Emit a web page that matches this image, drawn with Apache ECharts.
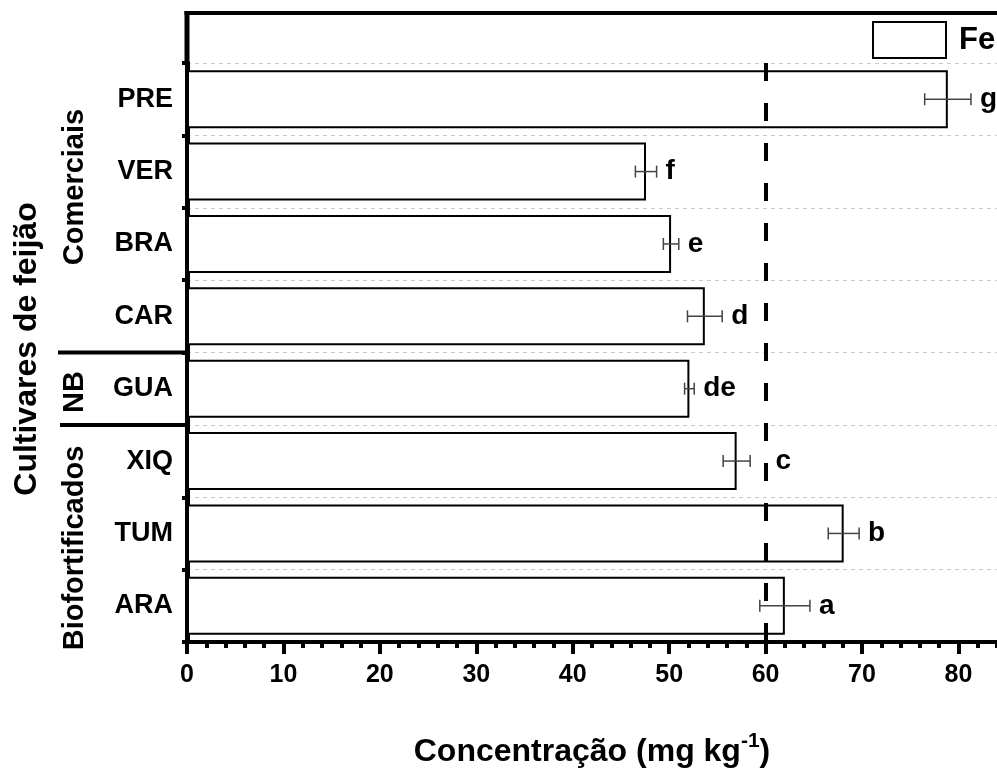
<!DOCTYPE html>
<html><head><meta charset="utf-8">
<script src="https://cdn.jsdelivr.net/npm/echarts@6/dist/echarts.min.js"></script>
<style>html,body{margin:0;padding:0;background:#fff}#c{width:997px;height:770px}</style>
</head><body><div id="c"></div>
<script>
// ---- data ----
const categories = ['PRE', 'VER', 'BRA', 'CAR', 'GUA', 'XIQ', 'TUM', 'ARA'];
const feMean = [78.9, 47.6, 50.2, 53.7, 52.1, 57.0, 68.1, 62.0];
const feErr = [2.4, 1.1, 0.8, 1.8, 0.5, 1.4, 1.6, 2.6];
const letters = ['g', 'f', 'e', 'd', 'de', 'c', 'b', 'a'];
const refLine = 60;
const xMin = 0, xMax = 84, xMajor = 10, xMinor = 2;
const seriesName = 'Fe';
const yTitle = 'Cultivares de feijão';
const groupNames = ['Comerciais', 'NB', 'Biofortificados'];

const FONT = '"Liberation Sans", Arial, Helvetica, sans-serif';
const chart = echarts.init(document.getElementById('c'), null, {renderer: 'canvas'});

const errData = categories.map((c, i) => [i, feMean[i] - feErr[i], feMean[i] + feErr[i]]);

const option = {
  animation: false,
  backgroundColor: '#fff',
  textStyle: {fontFamily: FONT},
  grid: {left: 187, right: 0, top: 63, bottom: 128, containLabel: false},
  legend: {
    data: [seriesName], left: 872, top: 21, padding: 0,
    itemWidth: 73, itemHeight: 36, icon: 'rect',
    itemStyle: {color: '#fff', borderColor: '#000', borderWidth: 2},
    textStyle: {fontSize: 31, fontWeight: 'bold', color: '#000', fontFamily: FONT, padding: [0, 0, 0, 8]}
  },
  xAxis: [{
    type: 'value', min: xMin, max: xMax, interval: xMajor, position: 'bottom',
    axisLine: {show: true, lineStyle: {color: '#000', width: 4}},
    axisTick: {show: true, length: 12, lineStyle: {color: '#000', width: 4}},
    axisLabel: {fontSize: 25, fontWeight: 'bold', color: '#000', margin: 21, showMaxLabel: false, fontFamily: FONT},
    splitLine: {show: false}
  }, {
    type: 'value', min: xMin, max: xMax, interval: xMinor, position: 'bottom',
    axisLine: {show: false},
    axisTick: {show: true, length: 6, lineStyle: {color: '#000', width: 4}},
    axisLabel: {show: false},
    splitLine: {show: false}
  }],
  yAxis: {
    type: 'category', data: categories, inverse: true,
    axisLine: {show: true, lineStyle: {color: '#000', width: 5}},
    axisTick: {show: true, length: 5, lineStyle: {color: '#000', width: 4}},
    axisLabel: {fontSize: 27, fontWeight: 'bold', color: '#000', margin: 14, fontFamily: FONT},
    splitLine: {show: true, lineStyle: {color: '#ccc', width: 1, type: [4, 4]}}
  },
  series: [{
    name: seriesName, type: 'bar', data: feMean, barWidth: 58,
    itemStyle: {color: '#fff', borderColor: '#000', borderWidth: 2},
    markLine: {
      silent: true, symbol: 'none', label: {show: false},
      lineStyle: {color: '#000', width: 4, type: [18, 22]},
      data: [{xAxis: refLine}]
    }
  }, {
    type: 'custom', data: errData, z: 5,
    encode: {x: [1, 2], y: 0},
    renderItem: function (params, api) {
      const idx = api.value(0);
      const lo = api.coord([api.value(1), idx]);
      const hi = api.coord([api.value(2), idx]);
      const p60 = api.coord([refLine, idx]);
      const h = 6;
      const txt = letters[idx];
      let tx = hi[0] + 9;
      const tw = txt.length * 15;
      if (tx < p60[0] + 8 && tx + tw > p60[0] - 4) tx = p60[0] + 10;
      const st = {stroke: '#444', lineWidth: 1.5};
      return {type: 'group', children: [
        {type: 'line', shape: {x1: lo[0], y1: lo[1], x2: hi[0], y2: hi[1]}, style: st},
        {type: 'line', shape: {x1: lo[0], y1: lo[1] - h, x2: lo[0], y2: lo[1] + h}, style: st},
        {type: 'line', shape: {x1: hi[0], y1: hi[1] - h, x2: hi[0], y2: hi[1] + h}, style: st},
        {type: 'text', x: tx, y: hi[1], style: {text: txt, fill: '#000', font: 'bold 28px ' + FONT, textAlign: 'left', textVerticalAlign: 'middle'}}
      ]};
    }
  }]
};
chart.setOption(option);

// decorations derived from axis positions
const yCAR = chart.convertToPixel({yAxisIndex: 0}, 'CAR');
const yGUA = chart.convertToPixel({yAxisIndex: 0}, 'GUA');
const yXIQ = chart.convertToPixel({yAxisIndex: 0}, 'XIQ');
const b1 = (yCAR + yGUA) / 2, b2 = (yGUA + yXIQ) / 2;
const xLeft = 187;
chart.setOption({graphic: [
  {type: 'line', shape: {x1: xLeft - 2.5, y1: 13, x2: 997, y2: 13}, style: {stroke: '#000', lineWidth: 4}},
  {type: 'line', shape: {x1: xLeft, y1: 11, x2: xLeft, y2: 64}, style: {stroke: '#000', lineWidth: 5}},
  {type: 'line', shape: {x1: 58, y1: b1, x2: xLeft, y2: b1}, style: {stroke: '#000', lineWidth: 4}},
  {type: 'line', shape: {x1: 60, y1: b2, x2: xLeft, y2: b2}, style: {stroke: '#000', lineWidth: 4}},
  {type: 'text', x: 27, y: 349, rotation: Math.PI / 2, style: {text: yTitle, font: 'bold 32px ' + FONT, fill: '#000', textAlign: 'center', textVerticalAlign: 'middle'}},
  {type: 'text', x: 75, y: 187, rotation: Math.PI / 2, style: {text: groupNames[0], font: 'bold 29px ' + FONT, fill: '#000', textAlign: 'center', textVerticalAlign: 'middle'}},
  {type: 'text', x: 75, y: 392, rotation: Math.PI / 2, style: {text: groupNames[1], font: 'bold 29px ' + FONT, fill: '#000', textAlign: 'center', textVerticalAlign: 'middle'}},
  {type: 'text', x: 75, y: 548, rotation: Math.PI / 2, style: {text: groupNames[2], font: 'bold 29px ' + FONT, fill: '#000', textAlign: 'center', textVerticalAlign: 'middle'}},
  {type: 'text', x: 592, y: 752, style: {
    text: '{a|Concentração (mg kg}{b|-1}{a|)}', textAlign: 'center', textVerticalAlign: 'middle',
    rich: {
      a: {fontSize: 32, fontWeight: 'bold', fontFamily: FONT, color: '#000'},
      b: {fontSize: 21, fontWeight: 'bold', fontFamily: FONT, color: '#000', padding: [0, 0, 22, 0]}
    }
  }}
]});
</script>
</body></html>
